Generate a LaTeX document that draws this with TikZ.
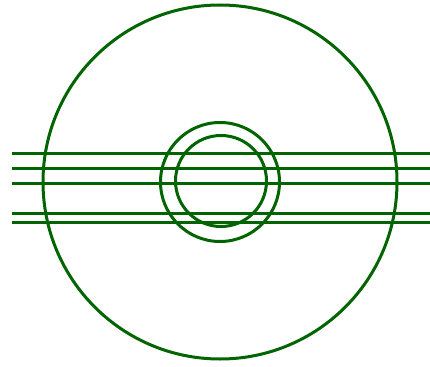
\documentclass[tikz,border=0pt]{standalone}
\definecolor{dg}{RGB}{0,100,0}
\begin{document}
\begin{tikzpicture}[x=1pt,y=-1pt,ln/.style={draw=dg,line width=3pt}]
\useasboundingbox (0,0) rectangle (430,366);
\coordinate (c) at (220,182);
\draw[ln] (c) circle[radius=177];
\draw[ln] (220,182) circle[radius=59.5];
\draw[ln] (221,181) circle[radius=45.5];
\foreach \y in {153,168,183,213,222}{
  \coordinate (l\y) at (12,\y);
  \coordinate (r\y) at (430,\y);
  \draw[ln] (l\y) -- (r\y);
}
\end{tikzpicture}
\end{document}
